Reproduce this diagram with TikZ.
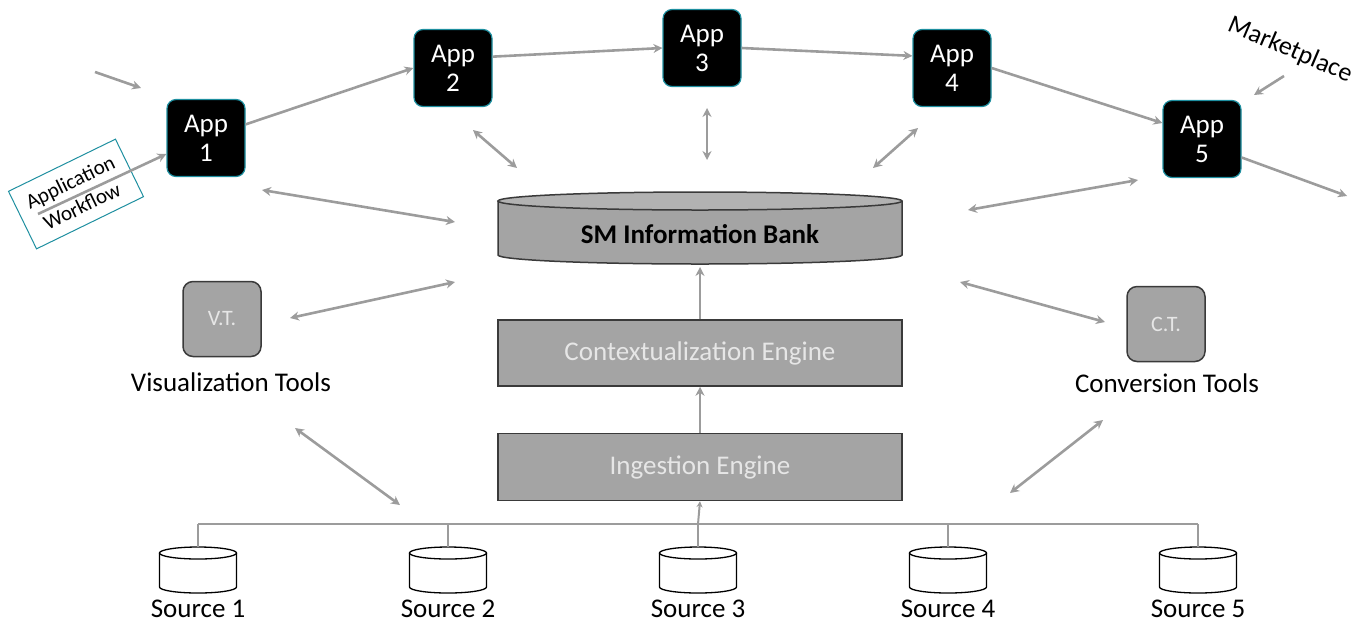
\documentclass[tikz,border=0pt]{standalone}
\usepackage{fontspec}
\setmainfont{Carlito}
\usetikzlibrary{arrows.meta}
\definecolor{arrgray}{HTML}{9C9C9C}
\definecolor{boxgray}{HTML}{A4A4A4}
\definecolor{edgegray}{HTML}{3A3A3A}
\definecolor{appedge}{HTML}{1E8FA0}
\definecolor{lighttext}{HTML}{E6E6E6}
\begin{document}
\begin{tikzpicture}[x=1pt,y=-1pt,
  app/.style={rounded corners=9pt, fill=black, draw=appedge, line width=1.2pt,
    minimum width=78pt, minimum height=77pt, text=white, align=center,
    font=\fontsize{27}{29}\selectfont, inner sep=0pt},
  arr/.style={draw=arrgray, line width=2.6pt, -{Stealth[length=9pt,width=9pt]}},
  darr/.style={draw=arrgray, line width=2.6pt, {Stealth[length=9pt,width=9pt]}-{Stealth[length=9pt,width=9pt]}},
  thin/.style={draw=arrgray, line width=2pt},
  eng/.style={rectangle, fill=boxgray, draw=edgegray, line width=1.5pt,
    minimum width=404pt, text=lighttext, font=\fontsize{27}{29}\selectfont},
  tool/.style={rounded corners=10pt, fill=boxgray, draw=edgegray, line width=1.5pt,
    minimum width=78pt, minimum height=75pt, text=lighttext, font=\fontsize{22}{24}\selectfont},
  lbl/.style={font=\fontsize{27}{29}\selectfont, text=black, inner sep=0pt},
]
\useasboundingbox (0,0) rectangle (1364,625);

% Apps
\node[app] (a1) at (206,138) {App\\1};
\node[app] (a2) at (453,68) {App\\2};
\node[app] (a3) at (702,48) {App\\3};
\node[app] (a4) at (952,68) {App\\4};
\node[app] (a5) at (1202,139) {App\\5};

% Application workflow box
\node[draw=appedge, line width=1pt, fill=white, rotate=26, minimum width=119pt, minimum height=64pt,
  align=center, font=\fontsize{21}{27}\selectfont, inner sep=0pt] (wf) at (76,194) {Application\\Workflow};
\node[rotate=-23, font=\fontsize{26}{28}\selectfont] (mk) at (1290,50) {Marketplace};

% app chain
\draw[arr] (a1.19) -- (a2.west);
\draw[arr] (a2.16) -- (a3.west);
\draw[arr] (a3.east) -- (a4.163);
\draw[arr] (a4.east) -- (a5.158);
\coordinate (out5) at (1347,196);
\draw[arr] (a5.-25) -- (out5);
\coordinate (in1a) at (95,72);
\coordinate (in1b) at (141,88);
\draw[arr] (in1a) -- (in1b);
\coordinate (wfs) at (38,214);
\draw[arr] (wfs) -- (a1.202);
\coordinate (mka) at (1284,76);
\coordinate (mkb) at (1254,95);
\draw[arr] (mka) -- (mkb);

% Bank cylinder
\fill[boxgray] (498,201) rectangle (902,255);
\fill[boxgray] (700,255) ellipse[x radius=202, y radius=9];
\draw[edgegray, line width=1.5pt] (498,201) -- (498,255) arc[start angle=180, end angle=0, x radius=202, y radius=9] -- (902,201);
\draw[edgegray, line width=1.5pt, fill=boxgray!85!white] (700,201) ellipse[x radius=202, y radius=9];
\node[font=\bfseries\fontsize{27}{29}\selectfont, inner sep=0pt] (bank) at (700,234) {SM Information Bank};

% Engines
\node[eng, minimum height=66pt] (ctx) at (700,353) {Contextualization Engine};
\node[eng, minimum height=67pt] (ing) at (700,467) {Ingestion Engine};
\coordinate (bankbot) at (700,267);
\draw[arr] (ctx.north) -- (bankbot);
\draw[arr] (ing.north) -- (ctx.south);

% Tools
\node[tool] (vt) at (222,319) {V.T.};
\node[lbl] (vtl) at (231,382) {Visualization Tools};
\node[tool] (ct) at (1166,324) {C.T.};
\node[lbl] (ctl) at (1167,383) {Conversion Tools};

% double arrows
\coordinate (d1a) at (262,190); \coordinate (d1b) at (455,222);
\draw[darr] (d1a) -- (d1b);
\coordinate (d2a) at (473,130); \coordinate (d2b) at (517,168);
\draw[darr] (d2a) -- (d2b);
\coordinate (d3a) at (707,108); \coordinate (d3b) at (707,160);
\draw[darr] (d3a) -- (d3b);
\coordinate (d4a) at (918,128); \coordinate (d4b) at (873,168);
\draw[darr] (d4a) -- (d4b);
\coordinate (d5a) at (1138,180); \coordinate (d5b) at (968,210);
\draw[darr] (d5a) -- (d5b);
\coordinate (d6a) at (290,318); \coordinate (d6b) at (455,282);
\draw[darr] (d6a) -- (d6b);
\coordinate (d7a) at (960,282); \coordinate (d7b) at (1105,322);
\draw[darr] (d7a) -- (d7b);
\coordinate (d8a) at (295,428); \coordinate (d8b) at (400,505);
\draw[darr] (d8a) -- (d8b);
\coordinate (d9a) at (1103,420); \coordinate (d9b) at (1010,493);
\draw[darr] (d9a) -- (d9b);

% Sources
\foreach \i/\x in {1/198,2/448,3/698,4/948,5/1198}{
  \fill[white] (\x-38.5,553) rectangle (\x+38.5,587);
  \draw[black, line width=1.3pt, fill=white] (\x-38.5,553) -- (\x-38.5,587)
    arc[start angle=180, end angle=0, x radius=38.5, y radius=6] -- (\x+38.5,553);
  \draw[black, line width=1.3pt, fill=white] (\x,553) ellipse[x radius=38.5, y radius=6];
  \node[minimum width=77pt, minimum height=40pt, inner sep=0pt] (s\i) at (\x,570) {};
  \node[lbl] (sl\i) at (\x,609) {Source \i};
  \coordinate (b\i) at (\x,524);
  \draw[thin] (b\i) -- (\x,547);
}
\draw[thin] (b1) -- (b5);
\draw[thin, -{Stealth[length=6pt,width=6pt]}] (b3) -- (ing.south);
\end{tikzpicture}
\end{document}
